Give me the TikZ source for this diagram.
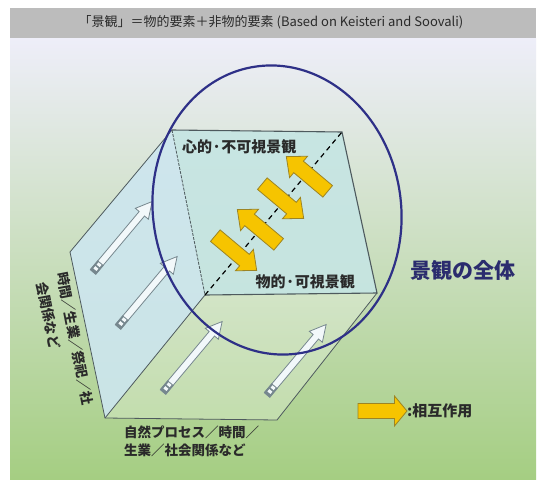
\documentclass[tikz,border=0pt]{standalone}
\usepackage{fontspec}
\newfontfamily\cjk{Noto Sans CJK JP}
\usetikzlibrary{shapes.geometric}
\definecolor{navy}{HTML}{2E3087}
\definecolor{bandgray}{HTML}{BCBCBC}
\definecolor{textdark}{HTML}{2A2A2A}
\definecolor{bgtop}{HTML}{EEEEF9}
\definecolor{bgmid}{HTML}{D6EAD0}
\definecolor{bgbot}{HTML}{A5CE82}
\definecolor{leftcol}{HTML}{CDE6EF}
\definecolor{frontcol}{HTML}{C6E5E3}
\definecolor{edgecol}{HTML}{4E5A5E}
\definecolor{arrowfill}{HTML}{F2F8FA}
\definecolor{arrowline}{HTML}{76878E}
\definecolor{gold}{HTML}{F6C400}
\definecolor{goldline}{HTML}{9C8424}
\definecolor{titlenavy}{HTML}{2B2C6E}
\tikzset{
  edge/.style={draw=edgecol, line width=0.8pt},
  harrow/.pic={
    \filldraw[fill=arrowfill, draw=arrowline, line width=0.8pt]
      (0,-3.5) -- (76,-3.5) -- (76,-8.5) -- (92,0) -- (76,8.5) -- (76,3.5) -- (0,3.5) -- cycle;
    \fill[arrowline] (0,-4) rectangle (12,4);
    \fill[arrowfill] (3,-2) rectangle (6,2);
    \fill[arrowfill] (8,-2) rectangle (11,2);
  },
  yarrow/.pic={
    \filldraw[fill=gold, draw=goldline, line width=0.8pt]
      (-27,-7.5) -- (11,-7.5) -- (11,-14) -- (27,0) -- (11,14) -- (11,7.5) -- (-27,7.5) -- cycle;
  },
  legarrow/.pic={
    \filldraw[fill=gold, draw=goldline, line width=0.8pt]
      (-24.5,-7.5) -- (12,-7.5) -- (12,-15) -- (24.5,0) -- (12,15) -- (12,7.5) -- (-24.5,7.5) -- cycle;
  },
  lbl/.style={font=\cjk\bfseries\fontsize{13.5}{16}\selectfont, text=textdark, inner sep=0pt},
}
\begin{document}
\begin{tikzpicture}[x=1pt,y=-1pt]
\useasboundingbox (0,0) rectangle (543,479);
\fill[white] (0,0) rectangle (543,479);
% background panel
\shade[top color=bgtop, middle color=bgmid, bottom color=bgbot] (10,38) rectangle (536,479);
\fill[bandgray] (10,8) rectangle (536,38);
\node[font=\cjk\fontsize{13}{15}\selectfont, text=textdark] (title) at (271,22)
  {「景観」＝物的要素＋非物的要素 (Based on Keisteri and Soovali)};
% cuboid corners
\coordinate (ftl) at (172,130);
\coordinate (ftr) at (342,132);
\coordinate (fbr) at (377,293);
\coordinate (fbl) at (205,295);
\coordinate (btl) at (70,252);
\coordinate (bbl) at (105,418);
\coordinate (bbr) at (277,420);
% faces
\fill[leftcol, opacity=0.9] (ftl) -- (btl) -- (bbl) -- (fbl) -- cycle;
\fill[white, opacity=0.25] (fbl) -- (bbl) -- (bbr) -- (fbr) -- cycle;
\fill[frontcol, opacity=0.92] (ftl) -- (ftr) -- (fbr) -- (fbl) -- cycle;
% edges
\draw[edge] (ftl) -- (btl) -- (bbl) -- (bbr) -- (fbr);
\draw[edge] (bbl) -- (fbl);
\draw[edge, line width=1.1pt] (ftl) -- (ftr) -- (fbr) -- (fbl);
\draw[edge, dash pattern=on 3pt off 1.2pt] (ftl) -- (fbl);
% white arrows
\pic[rotate=50] at (93,272) {harrow};
\pic[rotate=50] at (118,327) {harrow};
\pic[rotate=50] at (163,392) {harrow};
\pic[rotate=50] at (267,395) {harrow};
% ellipse
\node[ellipse, draw=navy, line width=2.2pt, minimum width=248pt, minimum height=290pt,
      inner sep=0pt, rotate=9] (whole) at (277,210) {};
% diagonal
\draw[black, line width=1.2pt, dash pattern=on 5pt off 4pt] (fbl) -- (ftr);
% yellow arrows
\pic[rotate=-40] at (236,253) {yarrow};
\pic[rotate=140] at (258,227) {yarrow};
\pic[rotate=-40] at (283,201) {yarrow};
\pic[rotate=140] at (307,174) {yarrow};
% labels
\node[lbl, font=\cjk\bfseries\fontsize{15}{17}\selectfont, anchor=west] (mind) at (182,147) {心的·不可視景観};
\node[lbl, font=\cjk\bfseries\fontsize{15}{17}\selectfont, anchor=east] (phys) at (355,282) {物的·可視景観};
\node[lbl, font=\cjk\bfseries\fontsize{21}{24}\selectfont, text=titlenavy] (total) at (463,270) {景観の全体};
\node[lbl, anchor=west] (bl1) at (124,432) {自然プロセス／時間／};
\node[lbl, anchor=west] (bl2) at (124,450) {生業／社会関係など};
\node[lbl, anchor=west, rotate=-79] (ll1) at (62,272) {時間／生業／祭祀／社};
\node[lbl, anchor=west, rotate=-79] (ll2) at (42,282) {会関係など};
% legend
\pic at (382.5,411) {legarrow};
\node[lbl, font=\cjk\bfseries\fontsize{15}{17}\selectfont, anchor=west] (legend) at (407,411) {:相互作用};
\end{tikzpicture}
\end{document}
